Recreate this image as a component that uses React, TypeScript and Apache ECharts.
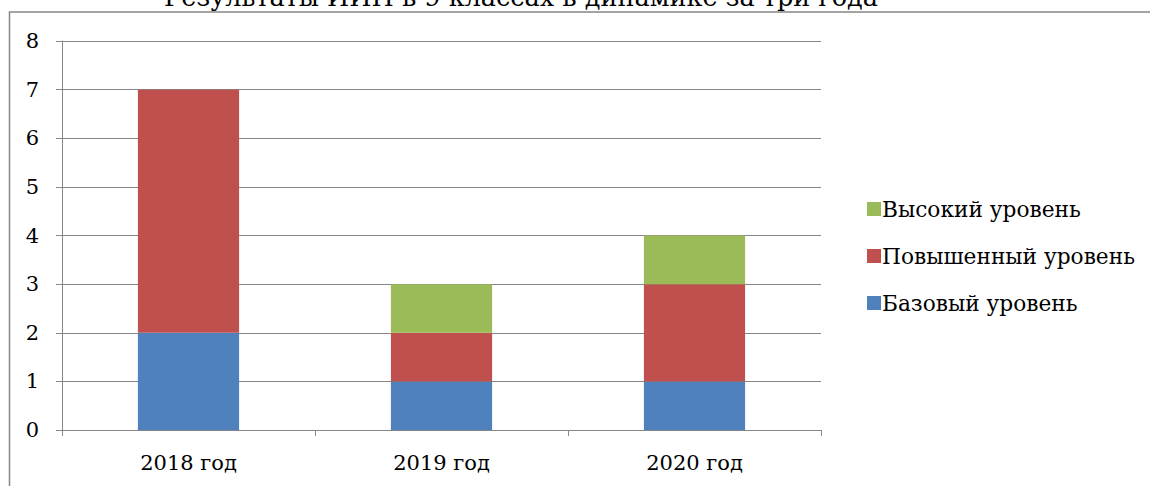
import React, { useEffect, useRef } from "react";
import * as echarts from "echarts";

const categories = ["2018 год", "2019 год", "2020 год"];
const baseLevel = [2, 1, 1];
const elevatedLevel = [5, 1, 2];
const highLevel = [0, 1, 1];
const titleText = "Результаты ИИП в 9 классах в динамике за три года";

const FONT = "DejaVu Serif";
const GRAY = "#868686";

export default function App() {
  const ref = useRef<HTMLDivElement>(null);
  useEffect(() => {
    const chart = echarts.init(ref.current!, null, { renderer: "svg" });
    chart.setOption({
      animation: false,
      backgroundColor: "#ffffff",
      graphic: [
        {
          type: "rect",
          shape: { x: 9.5, y: 12, width: 1300, height: 600 },
          style: { fill: "none", stroke: GRAY, lineWidth: 1.5 },
          z: 0,
        },
        {
          type: "text",
          x: 521,
          y: 10,
          style: {
            text: titleText,
            fontSize: 25.5,
            fontFamily: FONT,
            fill: "#000",
            textAlign: "center",
            textVerticalAlign: "bottom",
          },
        },
      ],
      grid: { left: 62, top: 41, width: 759, height: 389, containLabel: false },
      legend: {
        orient: "vertical",
        left: 862,
        top: 193,
        itemWidth: 14,
        itemHeight: 14,
        itemGap: 25,
        icon: "rect",
        textStyle: { fontSize: 21.7, fontFamily: FONT, color: "#000", padding: [0, 0, 0, -4] },
        data: ["Высокий уровень", "Повышенный уровень", "Базовый уровень"],
      },
      xAxis: {
        type: "category",
        data: categories,
        axisLine: { lineStyle: { color: GRAY, width: 1 } },
        axisTick: { show: true, length: 6, lineStyle: { color: GRAY } },
        axisLabel: { fontSize: 21, fontFamily: FONT, color: "#000", margin: 22 },
      },
      yAxis: {
        type: "value",
        min: 0,
        max: 8,
        interval: 1,
        axisLine: { show: true, lineStyle: { color: GRAY, width: 1 } },
        axisTick: { show: true, length: 6, lineStyle: { color: GRAY } },
        splitLine: { lineStyle: { color: GRAY, width: 1 } },
        axisLabel: { fontSize: 21, fontFamily: FONT, color: "#000", margin: 23 },
      },
      series: [
        {
          name: "Базовый уровень",
          type: "bar",
          stack: "s",
          data: baseLevel,
          barCategoryGap: "60%",
          itemStyle: { color: "#4F81BD" },
        },
        {
          name: "Повышенный уровень",
          type: "bar",
          stack: "s",
          data: elevatedLevel,
          itemStyle: { color: "#C0504D" },
        },
        {
          name: "Высокий уровень",
          type: "bar",
          stack: "s",
          data: highLevel,
          itemStyle: { color: "#9BBB59" },
        },
      ],
    });
    return () => chart.dispose();
  }, []);
  return (
    <div
      ref={ref}
      style={{ position: "fixed", left: 0, top: 0, width: 1150, height: 486 }}
    />
  );
}
